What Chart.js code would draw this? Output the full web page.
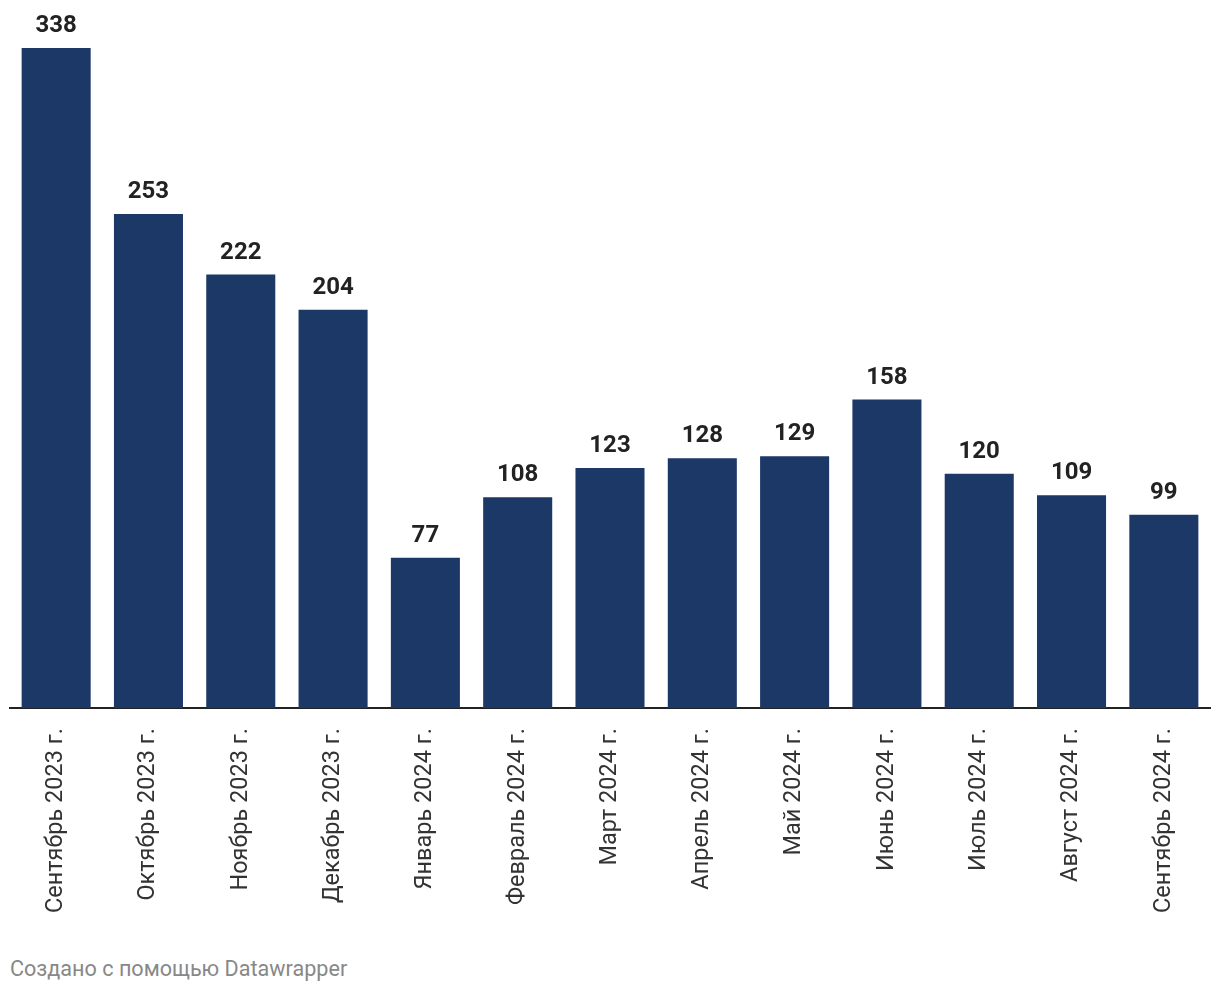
<!DOCTYPE html>
<html>
<head>
    <meta charset="utf-8">
    <title>Bar chart</title>
    <script src="https://cdn.jsdelivr.net/npm/chart.js"></script>
    <style>
        body { margin: 0; background: #fff; }
        #wrap { position: relative; width: 1220px; height: 994px; }
        #nota {
            position: absolute; left: 10px; top: 956px;
            font-family: Roboto, sans-serif; font-size: 21.6px; color: #888;
        }
    </style>
</head>
<body>
<div id="wrap">
    <canvas id="grafica" width="1220" height="925"></canvas>
    <div id="nota">Создано с помощью Datawrapper</div>
</div>
<script>
    const meses = ['Сентябрь 2023 г.', 'Октябрь 2023 г.', 'Ноябрь 2023 г.', 'Декабрь 2023 г.',
        'Январь 2024 г.', 'Февраль 2024 г.', 'Март 2024 г.', 'Апрель 2024 г.', 'Май 2024 г.',
        'Июнь 2024 г.', 'Июль 2024 г.', 'Август 2024 г.', 'Сентябрь 2024 г.'];
    const valores = [338, 253, 222, 204, 77, 108, 123, 128, 129, 158, 120, 109, 99];

    // etiquetas de valor encima de cada barra
    const etiquetas = {
        id: 'etiquetas',
        afterDatasetsDraw(chart) {
            const ctx = chart.ctx;
            ctx.save();
            ctx.font = 'bold 24px Roboto';
            ctx.fillStyle = '#222';
            ctx.textAlign = 'center';
            ctx.textBaseline = 'alphabetic';
            chart.getDatasetMeta(0).data.forEach((barra, i) => {
                ctx.fillText(valores[i], barra.x, barra.y - 16);
            });
            ctx.restore();
        }
    };

    new Chart(document.getElementById('grafica'), {
        type: 'bar',
        data: {
            labels: meses,
            datasets: [{
                data: valores,
                backgroundColor: '#1b3867',
                barPercentage: 0.748,
                categoryPercentage: 1
            }]
        },
        options: {
            responsive: false,
            animation: false,
            layout: { padding: { top: 48, left: 10, right: 10, bottom: 0 } },
            plugins: { legend: { display: false }, tooltip: { enabled: false } },
            scales: {
                x: {
                    grid: { display: false },
                    border: { display: true, color: '#222', width: 2 },
                    ticks: {
                        minRotation: 90, maxRotation: 90,
                        color: '#333',
                        font: { family: 'Roboto', size: 23.5 },
                        padding: 12
                    }
                },
                y: {
                    display: false,
                    min: 0, max: 338
                }
            }
        },
        plugins: [etiquetas]
    });
</script>
</body>
</html>
